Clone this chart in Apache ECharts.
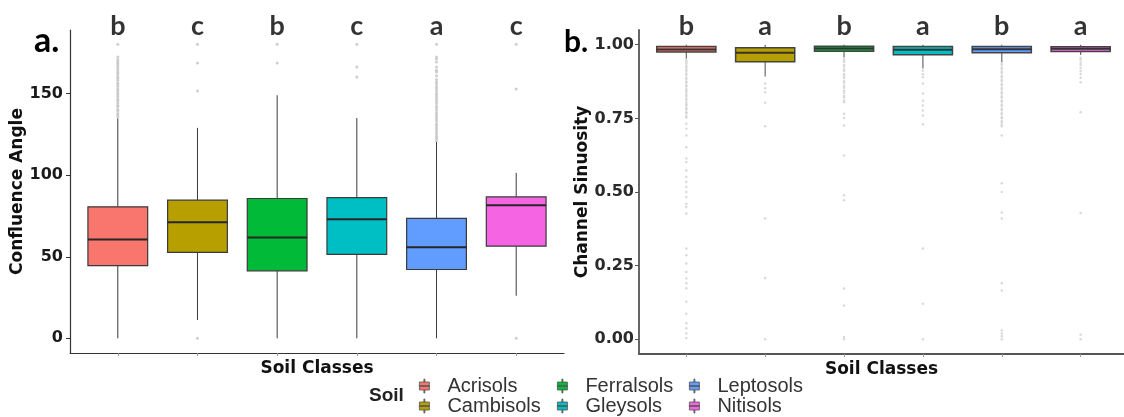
<!DOCTYPE html>
<html>
<head>
<meta charset="utf-8">
<script src="https://cdn.jsdelivr.net/npm/echarts@6/dist/echarts.min.js"></script>
<style>
html, body { margin: 0; padding: 0; background: #ffffff; }
#chart { width: 1124px; height: 417px; }
</style>
</head>
<body>
<div id="chart"></div>
<script>
// Soil classes shown on both panels
const soils = ['Acrisols', 'Cambisols', 'Ferralsols', 'Gleysols', 'Leptosols', 'Nitisols'];
const soilColors = ['#F8766D', '#B79F00', '#00BA38', '#00BFC4', '#619CFF', '#F564E3'];

// Panel a: confluence angle, box stats per soil [lower whisker, Q1, median, Q3, upper whisker]
const angleBoxes = [
  [0, 44.5, 60.6, 80.6, 134.8],
  [11.2, 52.7, 71.2, 84.7, 129],
  [0, 41.4, 61.8, 85.7, 149],
  [0, 51.4, 73, 86.3, 135],
  [0, 42.2, 55.9, 73.5, 120.4],
  [26.1, 56.5, 81.6, 86.7, 101.4]
];
const angleOutliers = [
  [135.6, 136.9, 137.8, 139.4, 140.3, 141.9, 142.8, 144.2, 145.6, 146.5, 148.1, 149.3, 150.4, 151.8, 152.9, 154.3, 155.6, 156.7, 158.2, 159.4, 160.3, 161.9, 163.1, 164.5, 165.8, 167.2, 168.4, 169.6, 170.8, 172.4, 180.2],
  [0, 151.6, 168.8, 180.2],
  [168.8, 180.2],
  [160.2, 166.3, 180.2],
  [121.3, 122.6, 123.8, 125.3, 126.4, 127.9, 129.1, 130.5, 131.6, 133.2, 134.4, 135.7, 137.1, 138.3, 139.8, 141.2, 142.3, 143.9, 145.1, 146.4, 147.8, 149.1, 150.2, 151.7, 153.1, 154.4, 155.9, 157.2, 158.6, 160.9, 163.2, 164.3, 166.3, 169.4, 171.2, 172.4, 180.2],
  [0, 152.8, 180.2]
];
const angleLetters = ['b', 'c', 'b', 'c', 'a', 'c'];
const angleTicks = [0, 50, 100, 150];
const angleRange = [-9, 189];

// Panel b: channel sinuosity
const sinuosityBoxes = [
  [0.952, 0.975, 0.984, 0.994, 1.0],
  [0.892, 0.942, 0.973, 0.990, 1.0],
  [0.958, 0.978, 0.987, 0.995, 1.0],
  [0.919, 0.966, 0.983, 0.994, 1.0],
  [0.941, 0.973, 0.985, 0.994, 1.0],
  [0.965, 0.977, 0.986, 0.993, 1.0]
];
const sinuosityOutliers = [
  [0.947, 0.941, 0.936, 0.928, 0.923, 0.915, 0.911, 0.902, 0.897, 0.888, 0.884, 0.875, 0.871, 0.862, 0.858, 0.849, 0.843, 0.838, 0.83, 0.825, 0.817, 0.812, 0.804, 0.797, 0.793, 0.784, 0.78, 0.771, 0.767, 0.758, 0.753,
   0.732, 0.715, 0.692, 0.652, 0.614, 0.602, 0.573, 0.551, 0.534, 0.517, 0.5, 0.483, 0.46, 0.449, 0.427,
   0.308, 0.285, 0.257, 0.228, 0.206, 0.19, 0.173, 0.127, 0.087, 0.054, 0.037, 0.02, 0.004],
  [0.868, 0.852, 0.839, 0.803, 0.723, 0.41, 0.208, 0.0],
  [0.955, 0.947, 0.942, 0.932, 0.926, 0.917, 0.911, 0.901, 0.895, 0.887, 0.877, 0.871, 0.861, 0.854, 0.844, 0.837, 0.827, 0.821, 0.811, 0.805,
   0.766, 0.751, 0.726, 0.624, 0.489, 0.472, 0.172, 0.115, 0.008, 0.0],
  [0.912, 0.9, 0.89, 0.868, 0.834, 0.81, 0.794, 0.777, 0.76, 0.73, 0.308, 0.121, 0.0],
  [0.938, 0.932, 0.923, 0.918, 0.909, 0.904, 0.895, 0.89, 0.881, 0.876, 0.867, 0.862, 0.853, 0.848, 0.839, 0.834, 0.825, 0.82, 0.811, 0.806, 0.797, 0.792, 0.783, 0.778, 0.769, 0.764, 0.755, 0.75, 0.741, 0.736, 0.729, 0.723,
   0.692, 0.53, 0.5, 0.43, 0.41, 0.19, 0.166, 0.03, 0.02, 0.01, 0.0],
  [0.955, 0.949, 0.94, 0.932, 0.921, 0.911, 0.901, 0.888, 0.873, 0.771, 0.429, 0.015, 0.0]
];
const sinuosityLetters = ['b', 'a', 'b', 'a', 'b', 'a'];
const sinuosityTicks = [0, 0.25, 0.5, 0.75, 1.0];
const sinuosityRange = [-0.05, 1.05];

const positions = soils.map((s, i) => i + 1);

const chart = echarts.init(document.getElementById('chart'), null, { renderer: 'canvas' });

// Box-and-whisker drawn through the cartesian scales
function boxRenderer(look) {
  return function (params, api) {
    const x = api.value(0);
    const pMin = api.coord([x, api.value(1)]);
    const pQ1 = api.coord([x, api.value(2)]);
    const pMed = api.coord([x, api.value(3)]);
    const pQ3 = api.coord([x, api.value(4)]);
    const pMax = api.coord([x, api.value(5)]);
    const w = api.size([0.75, 0])[0];
    const cx = pMed[0];
    return {
      type: 'group',
      children: [
        { type: 'line', shape: { x1: cx, y1: pMin[1], x2: cx, y2: pQ1[1] }, style: { stroke: look.whisker, lineWidth: look.whiskerWidth } },
        { type: 'line', shape: { x1: cx, y1: pQ3[1], x2: cx, y2: pMax[1] }, style: { stroke: look.whisker, lineWidth: look.whiskerWidth } },
        { type: 'rect', shape: { x: cx - w / 2, y: pQ3[1], width: w, height: pQ1[1] - pQ3[1] },
          style: { fill: api.visual('color'), stroke: look.border, lineWidth: look.borderWidth } },
        { type: 'line', shape: { x1: cx - w / 2, y1: pMed[1], x2: cx + w / 2, y2: pMed[1] }, style: { stroke: look.median, lineWidth: look.medianWidth } }
      ]
    };
  };
}

const lookA = { whisker: '#3a3a3a', whiskerWidth: 1, border: '#3a3a3a', borderWidth: 1.2, median: '#262626', medianWidth: 2 };
const lookB = { whisker: '#6a6a6a', whiskerWidth: 1.2, border: '#444444', borderWidth: 1.5, median: '#333333', medianWidth: 2 };

function boxSeries(boxes, gridIdx, look) {
  return soils.map((name, i) => ({
    name: name,
    type: 'custom',
    xAxisIndex: gridIdx,
    yAxisIndex: gridIdx,
    itemStyle: { color: soilColors[i] },
    renderItem: boxRenderer(look),
    encode: { x: 0, y: [1, 2, 3, 4, 5] },
    data: [[positions[i]].concat(boxes[i])],
    z: 3
  }));
}

function outlierSeries(outliers, gridIdx, size, color) {
  const pts = [];
  outliers.forEach((vals, i) => vals.forEach(v => pts.push([positions[i], v])));
  return {
    type: 'scatter',
    xAxisIndex: gridIdx,
    yAxisIndex: gridIdx,
    symbol: 'circle',
    symbolSize: size,
    itemStyle: { color: color },
    silent: true,
    data: pts,
    z: 2
  };
}

function letterSeries(letters, gridIdx, top) {
  return {
    type: 'scatter',
    xAxisIndex: gridIdx,
    yAxisIndex: gridIdx,
    symbolSize: 1,
    itemStyle: { color: 'rgba(0,0,0,0)' },
    clip: false,
    silent: true,
    data: letters.map((l, i) => [positions[i], top]),
    label: {
      show: true,
      position: 'inside',
      offset: [0, -4],
      formatter: p => letters[p.dataIndex],
      fontFamily: 'Lato',
      fontWeight: 'bold',
      fontSize: 27,
      color: '#000000'
    },
    z: 5
  };
}

function valueXAxis(gridIdx, max, lineColor, lineWidth) {
  return {
    type: 'value',
    gridIndex: gridIdx,
    min: 0.4,
    max: max,
    name: 'Soil Classes',
    nameLocation: 'middle',
    nameGap: 7,
    nameTextStyle: { fontFamily: 'DejaVu Sans', fontWeight: 'bold', fontSize: 17, color: '#111111' },
    axisLine: { show: true, onZero: false, lineStyle: { color: lineColor, width: lineWidth } },
    axisTick: { show: true, length: 3, customValues: positions, lineStyle: { color: '#9a9a9a' } },
    axisLabel: { show: false },
    splitLine: { show: false }
  };
}

function valueYAxis(gridIdx, range, ticks, name, nameGap, fmt, labelColor, fontSize, margin, lineColor, lineWidth) {
  return {
    type: 'value',
    gridIndex: gridIdx,
    min: range[0],
    max: range[1],
    name: name,
    nameLocation: 'middle',
    nameGap: nameGap,
    nameTextStyle: { fontFamily: 'DejaVu Sans', fontWeight: 'bold', fontSize: 17, color: '#111111' },
    axisLine: { show: true, onZero: false, lineStyle: { color: lineColor, width: lineWidth } },
    axisTick: { show: true, length: 4, customValues: ticks, lineStyle: { color: lineColor } },
    axisLabel: { show: true, customValues: ticks, formatter: fmt, margin: margin,
      fontFamily: 'DejaVu Sans', fontWeight: 'bold', fontSize: fontSize, color: labelColor },
    splitLine: { show: false }
  };
}

const legendIcon = 'path://M4.5,0 H5.5 V3 H4.5 Z M0,3 H10 V11 H0 Z M4.5,11 H5.5 V14 H4.5 Z M0,6.5 H10 V7.5 H0 Z';
function legendColumn(names, left) {
  return {
    orient: 'vertical',
    left: left,
    top: 376,
    padding: 0,
    itemWidth: 10,
    itemHeight: 14,
    itemGap: 0,
    icon: legendIcon,
    itemStyle: { borderColor: '#555555', borderWidth: 0.8 },
    selectedMode: false,
    data: names,
    textStyle: { fontFamily: 'Liberation Sans', fontSize: 20, lineHeight: 20, color: '#333333', padding: [0, 0, 0, 13] }
  };
}

const option = {
  backgroundColor: '#ffffff',
  animation: false,
  grid: [
    { left: 70, top: 30, width: 494, height: 323, outerBoundsMode: 'none', containLabel: false },
    { left: 639, top: 30, width: 485, height: 324, outerBoundsMode: 'none', containLabel: false }
  ],
  xAxis: [
    valueXAxis(0, 6.6, '#333333', 1.2),
    valueXAxis(1, 6.55, '#555555', 1.8)
  ],
  yAxis: [
    valueYAxis(0, angleRange, angleTicks, 'Confluence Angle', 43, v => String(v), '#1a1a1a', 16, 7, '#333333', 1.2),
    valueYAxis(1, sinuosityRange, sinuosityTicks, 'Channel Sinuosity', 47, v => v.toFixed(2), '#2a2a2a', 16, 5, '#555555', 1.8)
  ],
  legend: [
    legendColumn(soils.slice(0, 2), 419),
    legendColumn(soils.slice(2, 4), 557),
    legendColumn(soils.slice(4, 6), 689)
  ],
  graphic: [
    { type: 'text', left: 34, top: 24, style: { text: 'a.', fontFamily: 'Lato', fontWeight: 'bold', fontSize: 34, fill: '#000000' } },
    { type: 'text', left: 564, top: 27, style: { text: 'b.', fontFamily: 'Lato', fontWeight: 'bold', fontSize: 30, fill: '#000000' } },
    { type: 'text', left: 369, top: 386, style: { text: 'Soil', fontFamily: 'Liberation Sans', fontWeight: 'bold', fontSize: 19, fill: '#222222' } }
  ],
  series: [].concat(
    [outlierSeries(angleOutliers, 0, 3, '#c2c2c2')],
    boxSeries(angleBoxes, 0, lookA),
    [letterSeries(angleLetters, 0, angleRange[1])],
    [outlierSeries(sinuosityOutliers, 1, 2.5, '#cfcfcf')],
    boxSeries(sinuosityBoxes, 1, lookB),
    [letterSeries(sinuosityLetters, 1, sinuosityRange[1])]
  )
};

chart.setOption(option);
</script>
</body>
</html>
